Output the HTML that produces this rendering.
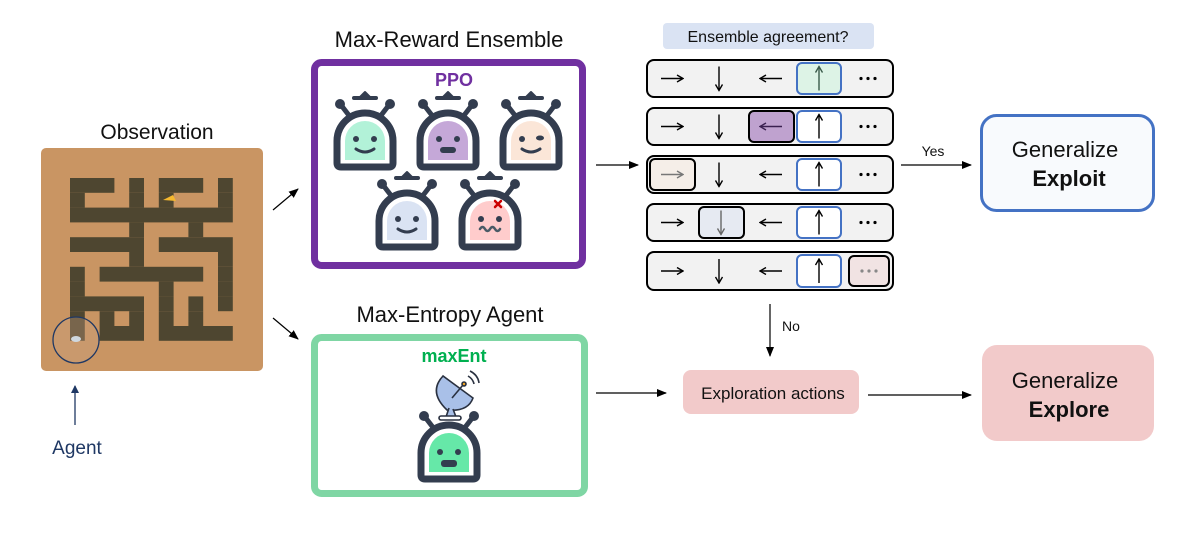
<!DOCTYPE html>
<html><head><meta charset="utf-8"><style>
html,body{margin:0;padding:0;background:#fff}
body{width:1200px;height:551px;overflow:hidden;font-family:"Liberation Sans",sans-serif}
</style></head><body>
<svg width="1200" height="551" viewBox="0 0 1200 551" xmlns="http://www.w3.org/2000/svg" font-family="Liberation Sans, sans-serif">
<defs>
<marker id="ah" markerWidth="10" markerHeight="8" refX="9" refY="4" orient="auto" markerUnits="userSpaceOnUse"><path d="M0,0 L10,4 L0,8 z" fill="#000"/></marker>
<marker id="ahb" markerWidth="8" markerHeight="8" refX="7" refY="4" orient="auto" markerUnits="userSpaceOnUse"><path d="M0,0 L8,4 L0,8 z" fill="#1F3864"/></marker>
<marker id="sa" markerWidth="8" markerHeight="8" refX="7" refY="4" orient="auto" markerUnits="userSpaceOnUse"><path d="M1,0.5 L7,4 L1,7.5" fill="none" stroke="context-stroke" stroke-width="1.4"/></marker>
<g id="R"><line x1="-11" y1="0" x2="11" y2="0" marker-end="url(#sa)"/></g>
<g id="L"><line x1="11" y1="0" x2="-11" y2="0" marker-end="url(#sa)"/></g>
<g id="D"><line x1="0" y1="-12" x2="0" y2="12" marker-end="url(#sa)"/></g>
<g id="U"><line x1="0" y1="12" x2="0" y2="-12" marker-end="url(#sa)"/></g>
<g id="crown"><path d="M-11,-15 H11" stroke="#333D4F" stroke-width="4" stroke-linecap="round"/><path d="M-5,-16 L0,-21 L5,-16 z" fill="#333D4F" stroke="#333D4F" stroke-width="2" stroke-linejoin="round"/></g>
</defs>

<!-- Observation -->
<text x="157" y="139" font-size="21" text-anchor="middle" fill="#111">Observation</text>
<rect x="41" y="148" width="222" height="223" rx="5" fill="#C99563"/>
<g fill="#4E4630">
<rect x="70" y="178" width="44.4" height="14.8"/><rect x="129.2" y="178" width="14.8" height="14.8"/><rect x="158.8" y="178" width="44.4" height="14.8"/><rect x="218" y="178" width="14.8" height="14.8"/>
<rect x="70" y="192.8" width="14.8" height="14.8"/><rect x="129.2" y="192.8" width="14.8" height="14.8"/><rect x="158.8" y="192.8" width="14.8" height="14.8"/><rect x="218" y="192.8" width="14.8" height="14.8"/>
<rect x="70" y="207.6" width="162.8" height="14.8"/>
<rect x="129.2" y="222.4" width="14.8" height="14.8"/><rect x="188.4" y="222.4" width="14.8" height="14.8"/>
<rect x="70" y="237.2" width="74" height="14.8"/><rect x="158.8" y="237.2" width="74" height="14.8"/>
<rect x="129.2" y="252" width="14.8" height="14.8"/><rect x="218" y="252" width="14.8" height="14.8"/>
<rect x="70" y="266.8" width="14.8" height="14.8"/><rect x="99.6" y="266.8" width="103.6" height="14.8"/><rect x="218" y="266.8" width="14.8" height="14.8"/>
<rect x="70" y="281.6" width="14.8" height="14.8"/><rect x="158.8" y="281.6" width="14.8" height="14.8"/><rect x="218" y="281.6" width="14.8" height="14.8"/>
<rect x="70" y="296.4" width="74" height="14.8"/><rect x="158.8" y="296.4" width="14.8" height="14.8"/><rect x="188.4" y="296.4" width="14.8" height="14.8"/><rect x="218" y="296.4" width="14.8" height="14.8"/>
<rect x="70" y="311.2" width="14.8" height="14.8"/><rect x="99.6" y="311.2" width="14.8" height="14.8"/><rect x="129.2" y="311.2" width="14.8" height="14.8"/><rect x="158.8" y="311.2" width="14.8" height="14.8"/><rect x="188.4" y="311.2" width="14.8" height="14.8"/>
<rect x="70" y="326" width="14.8" height="14.8"/><rect x="99.6" y="326" width="44.4" height="14.8"/><rect x="158.8" y="326" width="74" height="14.8"/>
</g>
<path d="M163,200 l10,-5 l3,6 z" fill="#F5B82E"/>
<circle cx="76" cy="340" r="23" fill="rgba(200,160,130,0.35)" stroke="#1F3864" stroke-width="1.3"/>
<ellipse cx="76" cy="339" rx="5" ry="3" fill="#cfd8e0"/>
<line x1="75" y1="425" x2="75" y2="386" stroke="#1F3864" stroke-width="1.3" marker-end="url(#ahb)"/>
<text x="77" y="454" font-size="19" text-anchor="middle" fill="#1F3864">Agent</text>

<line x1="273" y1="210" x2="298" y2="189" stroke="#000" stroke-width="1.2" marker-end="url(#ah)"/>
<line x1="273" y1="318" x2="298" y2="339" stroke="#000" stroke-width="1.2" marker-end="url(#ah)"/>

<!-- Max-Reward Ensemble -->
<text x="449" y="47" font-size="22" text-anchor="middle" fill="#111">Max-Reward Ensemble</text>
<rect x="314.5" y="62.5" width="268" height="203" rx="7" fill="#fff" stroke="#7030A0" stroke-width="7"/>
<text x="454" y="86" font-size="18" font-weight="bold" text-anchor="middle" fill="#7030A0">PPO</text>

<g stroke="#333D4F" stroke-linecap="round" fill="none">
<g transform="translate(365,113)">
<use href="#crown"/>
<line x1="-14" y1="5" x2="-24" y2="-8" stroke-width="5"/><line x1="14" y1="5" x2="24" y2="-8" stroke-width="5"/>
<circle cx="-25" cy="-9" r="5" fill="#333D4F" stroke="none"/><circle cx="25" cy="-9" r="5" fill="#333D4F" stroke="none"/>
<path d="M-28,50 V28 A28,28 0 0 1 28,28 V50 Q28,54 24,54 H-24 Q-28,54 -28,50 z" fill="#fff" stroke-width="7"/>
<path d="M-20,47 V28 A20,20 0 0 1 20,28 V47 z" fill="#B2F2D8" stroke="none"/>
<circle cx="-9" cy="26" r="3" fill="#333D4F" stroke="none"/><circle cx="9" cy="26" r="3" fill="#333D4F" stroke="none"/>
<path d="M-9,36 Q0,42 9,36" stroke-width="3"/>
</g>
<g transform="translate(448,113)">
<use href="#crown"/>
<line x1="-14" y1="5" x2="-24" y2="-8" stroke-width="5"/><line x1="14" y1="5" x2="24" y2="-8" stroke-width="5"/>
<circle cx="-25" cy="-9" r="5" fill="#333D4F" stroke="none"/><circle cx="25" cy="-9" r="5" fill="#333D4F" stroke="none"/>
<path d="M-28,50 V28 A28,28 0 0 1 28,28 V50 Q28,54 24,54 H-24 Q-28,54 -28,50 z" fill="#fff" stroke-width="7"/>
<path d="M-20,47 V28 A20,20 0 0 1 20,28 V47 z" fill="#C5A8D8" stroke="none"/>
<circle cx="-9" cy="26" r="3" fill="#333D4F" stroke="none"/><circle cx="9" cy="26" r="3" fill="#333D4F" stroke="none"/>
<rect x="-8" y="34" width="16" height="6" rx="3" fill="#333D4F" stroke="none"/>
</g>
<g transform="translate(531,113)">
<use href="#crown"/>
<line x1="-14" y1="5" x2="-24" y2="-8" stroke-width="5"/><line x1="14" y1="5" x2="24" y2="-8" stroke-width="5"/>
<circle cx="-25" cy="-9" r="5" fill="#333D4F" stroke="none"/><circle cx="25" cy="-9" r="5" fill="#333D4F" stroke="none"/>
<path d="M-28,50 V28 A28,28 0 0 1 28,28 V50 Q28,54 24,54 H-24 Q-28,54 -28,50 z" fill="#fff" stroke-width="7"/>
<path d="M-20,47 V28 A20,20 0 0 1 20,28 V47 z" fill="#FBE6D8" stroke="none"/>
<circle cx="-9" cy="26" r="3" fill="#333D4F" stroke="none"/><ellipse cx="9" cy="25" rx="4" ry="2.5" fill="#333D4F" stroke="none"/>
<path d="M-9,36 Q0,42 9,36" stroke-width="3"/>
</g>
<g transform="translate(407,193)">
<use href="#crown"/>
<line x1="-14" y1="5" x2="-24" y2="-8" stroke-width="5"/><line x1="14" y1="5" x2="24" y2="-8" stroke-width="5"/>
<circle cx="-25" cy="-9" r="5" fill="#333D4F" stroke="none"/><circle cx="25" cy="-9" r="5" fill="#333D4F" stroke="none"/>
<path d="M-28,50 V28 A28,28 0 0 1 28,28 V50 Q28,54 24,54 H-24 Q-28,54 -28,50 z" fill="#fff" stroke-width="7"/>
<path d="M-20,47 V28 A20,20 0 0 1 20,28 V47 z" fill="#DAE3F3" stroke="none"/>
<circle cx="-9" cy="26" r="3" fill="#333D4F" stroke="none"/><circle cx="9" cy="26" r="3" fill="#333D4F" stroke="none"/>
<path d="M-9,36 Q0,42 9,36" stroke-width="3"/>
</g>
<g transform="translate(490,193)">
<use href="#crown"/>
<line x1="-14" y1="5" x2="-24" y2="-8" stroke-width="5"/><line x1="14" y1="5" x2="24" y2="-8" stroke-width="5"/>
<circle cx="-25" cy="-9" r="5" fill="#333D4F" stroke="none"/><circle cx="25" cy="-9" r="5" fill="#333D4F" stroke="none"/>
<path d="M-28,50 V28 A28,28 0 0 1 28,28 V50 Q28,54 24,54 H-24 Q-28,54 -28,50 z" fill="#fff" stroke-width="7"/>
<path d="M-20,47 V28 A20,20 0 0 1 20,28 V47 z" fill="#FFCCCC" stroke="none"/>
<circle cx="-9" cy="26" r="3" fill="#333D4F" stroke="none"/><circle cx="9" cy="26" r="3" fill="#333D4F" stroke="none"/>
<path d="M-10,36 q2.5,-4 5,0 q2.5,4 5,0 q2.5,-4 5,0 q2.5,4 5,0" stroke="#4a5a66" stroke-width="2.5"/>
<path d="M5,8 l6,6 M11,8 l-6,6" stroke="#CC0000" stroke-width="2.5"/>
</g>
<g transform="translate(449,425)">
<line x1="-14" y1="5" x2="-24" y2="-8" stroke-width="5"/><line x1="14" y1="5" x2="24" y2="-8" stroke-width="5"/>
<circle cx="-25" cy="-9" r="5" fill="#333D4F" stroke="none"/><circle cx="25" cy="-9" r="5" fill="#333D4F" stroke="none"/>
<path d="M-28,50 V28 A28,28 0 0 1 28,28 V50 Q28,54 24,54 H-24 Q-28,54 -28,50 z" fill="#fff" stroke-width="7"/>
<path d="M-20,47 V28 A20,20 0 0 1 20,28 V47 z" fill="#66E8A8" stroke="none"/>
<circle cx="-9" cy="27" r="3" fill="#333D4F" stroke="none"/><circle cx="9" cy="27" r="3" fill="#333D4F" stroke="none"/>
<rect x="-8" y="35" width="16" height="7" rx="3" fill="#333D4F" stroke="none"/>
</g>
</g>

<!-- Max-Entropy -->
<text x="450" y="322" font-size="22" text-anchor="middle" fill="#111">Max-Entropy Agent</text>
<rect x="314.5" y="337.5" width="270" height="156" rx="7" fill="none" stroke="#7FD6A4" stroke-width="7"/>
<text x="454" y="362" font-size="18" font-weight="bold" text-anchor="middle" fill="#00B050">maxEnt</text>
<g stroke="#2a3140" stroke-width="1.6" fill="none">
<path d="M443,376 Q428,392 447,410 Q468,412 473,398 z" fill="#A9C0E8"/>
<line x1="452" y1="398" x2="463" y2="385"/><circle cx="464" cy="384" r="2" fill="#F5A623"/>
<path d="M449,408 l-3,9 h10 l-3,-8" fill="#A9C0E8"/>
<rect x="439" y="416" width="22" height="4" rx="2" fill="#fff"/>
<path d="M468,376 q5,3 6,8 M470,371 q8,4 9,12"/>
</g>

<line x1="596" y1="165" x2="638" y2="165" stroke="#000" stroke-width="1.2" marker-end="url(#ah)"/>
<line x1="596" y1="393" x2="666" y2="393" stroke="#000" stroke-width="1.2" marker-end="url(#ah)"/>

<rect x="663" y="23" width="211" height="26" rx="4" fill="#DAE3F3"/>
<text x="768" y="42" font-size="16" text-anchor="middle" fill="#111">Ensemble agreement?</text>

<!-- rows -->
<rect x="647" y="60" width="246" height="37" rx="7" fill="#F2F2F2" stroke="#000" stroke-width="2"/>
<rect x="797" y="63" width="44" height="31" rx="5" fill="#DDF3E6" stroke="#4472C4" stroke-width="2"/>
<rect x="647" y="108" width="246" height="37" rx="7" fill="#F2F2F2" stroke="#000" stroke-width="2"/>
<rect x="749" y="111" width="45" height="31" rx="5" fill="#BFA2CF" stroke="#000" stroke-width="2"/>
<rect x="797" y="111" width="44" height="31" rx="5" fill="#fff" stroke="#4472C4" stroke-width="2"/>
<rect x="647" y="156" width="246" height="37" rx="7" fill="#F2F2F2" stroke="#000" stroke-width="2"/>
<rect x="650" y="159" width="45" height="31" rx="5" fill="#F5EEE8" stroke="#000" stroke-width="2"/>
<rect x="797" y="159" width="44" height="31" rx="5" fill="#fff" stroke="#4472C4" stroke-width="2"/>
<rect x="647" y="204" width="246" height="37" rx="7" fill="#F2F2F2" stroke="#000" stroke-width="2"/>
<rect x="699" y="207" width="45" height="31" rx="5" fill="#E6EAF2" stroke="#000" stroke-width="2"/>
<rect x="797" y="207" width="44" height="31" rx="5" fill="#fff" stroke="#4472C4" stroke-width="2"/>
<rect x="647" y="252" width="246" height="38" rx="7" fill="#F2F2F2" stroke="#000" stroke-width="2"/>
<rect x="797" y="255" width="44" height="32" rx="5" fill="#fff" stroke="#4472C4" stroke-width="2"/>
<rect x="849" y="256" width="40" height="30" rx="5" fill="#F1E3E3" stroke="#000" stroke-width="2"/>

<g stroke="#000" stroke-width="1.4" fill="none">
<use href="#R" transform="translate(672,78.5)"/><use href="#D" transform="translate(719,78.5)"/><use href="#L" transform="translate(771,78.5)"/><use href="#U" transform="translate(819,78.5)" stroke="#3a5a4a"/>
<use href="#R" transform="translate(672,126.5)"/><use href="#D" transform="translate(719,126.5)"/><use href="#L" transform="translate(771,126.5)" stroke="#3a2050"/><use href="#U" transform="translate(819,126.5)"/>
<use href="#R" transform="translate(672,174.5)" stroke="#777"/><use href="#D" transform="translate(719,174.5)"/><use href="#L" transform="translate(771,174.5)"/><use href="#U" transform="translate(819,174.5)"/>
<use href="#R" transform="translate(672,222.5)"/><use href="#D" transform="translate(721,222.5)" stroke="#666"/><use href="#L" transform="translate(771,222.5)"/><use href="#U" transform="translate(819,222.5)"/>
<use href="#R" transform="translate(672,271)"/><use href="#D" transform="translate(719,271)"/><use href="#L" transform="translate(771,271)"/><use href="#U" transform="translate(819,271)"/>
</g>
<g fill="#000">
<circle cx="861" cy="78.5" r="1.6"/><circle cx="868" cy="78.5" r="1.6"/><circle cx="875" cy="78.5" r="1.6"/>
<circle cx="861" cy="126.5" r="1.6"/><circle cx="868" cy="126.5" r="1.6"/><circle cx="875" cy="126.5" r="1.6"/>
<circle cx="861" cy="174.5" r="1.6"/><circle cx="868" cy="174.5" r="1.6"/><circle cx="875" cy="174.5" r="1.6"/>
<circle cx="861" cy="222.5" r="1.6"/><circle cx="868" cy="222.5" r="1.6"/><circle cx="875" cy="222.5" r="1.6"/>
</g>
<g fill="#888"><circle cx="862" cy="271" r="1.6"/><circle cx="869" cy="271" r="1.6"/><circle cx="876" cy="271" r="1.6"/></g>

<line x1="901" y1="165" x2="971" y2="165" stroke="#000" stroke-width="1.2" marker-end="url(#ah)"/>
<text x="933" y="156" font-size="14" text-anchor="middle" fill="#111">Yes</text>
<rect x="981.5" y="115.5" width="172" height="95" rx="15" fill="#F8FAFD" stroke="#4472C4" stroke-width="3"/>
<text x="1065" y="157" font-size="22" text-anchor="middle" fill="#111">Generalize</text>
<text x="1069" y="186" font-size="22" font-weight="bold" text-anchor="middle" fill="#111">Exploit</text>

<line x1="770" y1="304" x2="770" y2="356" stroke="#000" stroke-width="1.2" marker-end="url(#ah)"/>
<text x="791" y="331" font-size="14" text-anchor="middle" fill="#111">No</text>
<rect x="683" y="370" width="176" height="44" rx="8" fill="#F2CACA"/>
<text x="773" y="399" font-size="17" text-anchor="middle" fill="#111">Exploration actions</text>
<line x1="868" y1="395" x2="971" y2="395" stroke="#000" stroke-width="1.2" marker-end="url(#ah)"/>
<rect x="982" y="345" width="172" height="96" rx="15" fill="#F2CACA"/>
<text x="1065" y="388" font-size="22" text-anchor="middle" fill="#111">Generalize</text>
<text x="1069" y="417" font-size="22" font-weight="bold" text-anchor="middle" fill="#111">Explore</text>
</svg>
</body></html>
